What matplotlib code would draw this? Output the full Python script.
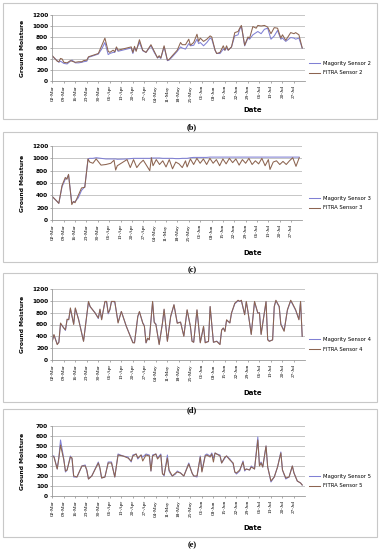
import matplotlib
matplotlib.use("Agg")
import matplotlib.pyplot as plt
from matplotlib.patches import Rectangle

# -----------------------------
# data (day 0 = 02-Mar)
# -----------------------------
tick_labels = ["02-Mar", "09-Mar", "16-Mar", "23-Mar", "30-Mar", "06-Apr", "13-Apr",
               "20-Apr", "27-Apr", "04-May", "11-May", "18-May", "25-May", "01-Jun",
               "08-Jun", "15-Jun", "22-Jun", "29-Jun", "06-Jul", "13-Jul", "20-Jul", "27-Jul"]
tick_days = list(range(0, 148, 7))

# sensor 2
days2 = [0, 3, 4, 5, 6, 7, 9, 11, 12, 14,
         16, 18, 19, 21, 22, 28, 30, 32, 34, 35,
         37, 38, 39, 40, 48, 49, 50, 51, 53, 55,
         57, 60, 62, 64, 65, 66, 68, 70, 71, 73,
         76, 78, 79, 81, 83, 84, 86, 88, 89, 90,
         92, 94, 96, 97, 99, 100, 102, 104, 105, 106,
         107, 109, 111, 113, 114, 115, 117, 119, 120, 122,
         124, 125, 127, 129, 131, 133, 135, 137, 139, 140,
         142, 145, 147, 148, 150, 152]
fitra2 = [460, 360, 350, 410, 400, 340, 330, 370, 360, 340,
          350, 350, 370, 380, 440, 500, 640, 780, 540, 520,
          560, 530, 620, 560, 620, 520, 630, 540, 750, 560,
          520, 660, 540, 420, 460, 420, 640, 380, 390, 460,
          560, 700, 660, 660, 760, 650, 700, 850, 720, 780,
          720, 760, 820, 800, 560, 500, 520, 640, 560, 640,
          560, 620, 880, 900, 960, 1010, 650, 800, 780, 990,
          960, 1010, 1000, 1010, 980, 860, 970, 960, 780, 840,
          740, 880, 860, 880, 840, 600]
major2 = [450, 370, 340, 360, 340, 320, 310, 360, 380, 330,
          330, 340, 350, 360, 430, 490, 580, 700, 480, 500,
          520, 520, 600, 540, 600, 500, 600, 560, 700, 550,
          520, 640, 520, 420, 440, 410, 620, 370, 380, 440,
          540, 620, 600, 580, 680, 640, 650, 760, 680, 700,
          640, 700, 780, 760, 560, 500, 500, 580, 560, 600,
          560, 620, 820, 840, 940, 1000, 640, 780, 760, 840,
          880, 900, 860, 940, 960, 760, 820, 920, 760, 780,
          720, 790, 780, 760, 780, 600]

# sensor 3
days3 = [0, 3, 4, 6, 8, 9, 10, 12, 13, 14,
         16, 18, 20, 22, 23, 25, 27, 30, 33, 36,
         38, 39, 40, 46, 48, 50, 52, 54, 56, 60,
         61, 62, 64, 66, 68, 70, 72, 74, 76, 78,
         80, 82, 83, 85, 87, 89, 91, 93, 95, 97,
         99, 101, 103, 105, 107, 109, 111, 113, 115, 117,
         119, 121, 123, 125, 127, 129, 131, 133, 134, 136,
         138, 140, 142, 144, 146, 148, 150, 152]
fitra3 = [380, 300, 270, 560, 690, 660, 740, 250, 300, 280,
          400, 520, 530, 990, 940, 920, 990, 890, 900, 920,
          970, 810, 880, 980, 850, 980, 850, 920, 970, 800,
          1010, 880, 980, 900, 960, 860, 980, 830, 940, 910,
          850, 960, 860, 990, 900, 1000, 920, 990, 900, 1000,
          920, 980, 880, 990, 910, 1000, 930, 990, 890, 980,
          920, 1000, 900, 960, 910, 1000, 880, 980, 820, 940,
          960, 900, 950, 900, 960, 1010, 870, 1010]
major3 = [380, 300, 270, 540, 660, 680, 730, 280, 290, 300,
          360, 480, 540, 990, 1000, 1000, 1010, 1000, 990, 990,
          990, 990, 985, 990, 995, 1000, 1000, 1000, 1000, 1000,
          1005, 1005, 1005, 1005, 1000, 1000, 1000, 1000, 995, 995,
          1000, 1000, 1000, 1010, 1015, 1015, 1015, 1015, 1015, 1020,
          1020, 1020, 1020, 1020, 1020, 1020, 1020, 1020, 1020, 1020,
          1020, 1020, 1020, 1020, 1020, 1020, 1020, 1020, 1020, 1020,
          1020, 1020, 1020, 1020, 1020, 1020, 1020, 1020]

# sensor 4
days4 = [0, 1, 3, 4, 5, 7, 8, 9, 10, 11,
         13, 14, 16, 19, 22, 23, 26, 28, 29, 30,
         32, 33, 34, 35, 36, 38, 40, 42, 45, 49,
         50, 52, 53, 55, 56, 57, 58, 59, 61, 62,
         63, 65, 67, 68, 70, 72, 74, 76, 78, 80,
         82, 84, 85, 86, 88, 90, 92, 93, 95, 96,
         98, 100, 102, 103, 104, 105, 106, 108, 109, 111,
         113, 114, 115, 117, 118, 119, 121, 123, 125, 126,
         127, 130, 131, 132, 134, 135, 136, 138, 139, 141,
         143, 145, 146, 148, 150, 151, 152]
fitra4 = [315, 430, 260, 300, 625, 540, 510, 690, 680, 880,
          600, 880, 680, 315, 990, 905, 795, 710, 860, 680,
          990, 990, 795, 850, 990, 990, 625, 820, 570, 290,
          290, 740, 820, 625, 570, 290, 370, 340, 990, 635,
          600, 260, 625, 860, 315, 740, 935, 620, 640, 400,
          850, 570, 315, 300, 850, 290, 570, 290, 315, 905,
          300, 315, 260, 510, 540, 480, 680, 625, 795, 960,
          1010, 990, 1010, 765, 990, 820, 430, 990, 795, 795,
          430, 990, 340, 315, 340, 905, 1010, 905, 600, 485,
          850, 1010, 960, 850, 680, 990, 400]
major4 = [330, 420, 270, 300, 610, 540, 500, 680, 690, 860,
          610, 870, 690, 320, 980, 900, 800, 700, 850, 690,
          980, 990, 780, 850, 990, 980, 640, 820, 570, 300,
          290, 730, 810, 630, 580, 290, 360, 350, 980, 640,
          610, 270, 620, 850, 320, 730, 930, 630, 640, 410,
          840, 560, 320, 300, 840, 300, 560, 300, 310, 900,
          300, 320, 270, 500, 540, 490, 670, 630, 790, 950,
          1000, 990, 1000, 770, 980, 820, 440, 980, 790, 800,
          440, 980, 350, 320, 340, 900, 1000, 900, 610, 500,
          840, 1000, 950, 840, 690, 980, 400]

# sensor 5
days5 = [0, 1, 3, 4, 5, 7, 8, 9, 11, 12,
         13, 15, 18, 20, 21, 22, 24, 28, 29, 30,
         32, 34, 36, 38, 40, 43, 46, 48, 49, 51,
         52, 54, 55, 57, 59, 60, 61, 63, 64, 66,
         67, 68, 70, 71, 72, 73, 75, 76, 78, 80,
         83, 85, 86, 88, 90, 91, 93, 94, 96, 97,
         98, 99, 100, 102, 103, 105, 106, 108, 110, 111,
         112, 114, 116, 117, 118, 120, 121, 123, 125, 126,
         127, 128, 130, 131, 133, 135, 137, 139, 140, 142,
         144, 146, 147, 149, 151, 152]
fitra5 = [400, 390, 270, 380, 510, 360, 250, 260, 390, 380,
          200, 190, 300, 300, 260, 170, 200, 330, 280, 180,
          190, 330, 330, 190, 410, 400, 380, 350, 400, 420,
          380, 410, 350, 410, 400, 250, 400, 420, 370, 410,
          220, 210, 380, 260, 230, 200, 230, 240, 230, 200,
          320, 230, 200, 200, 390, 240, 400, 410, 390, 420,
          340, 430, 420, 400, 330, 390, 400, 360, 330, 240,
          230, 260, 340, 260, 270, 260, 290, 270, 560, 300,
          330, 290, 500, 290, 150, 190, 290, 430, 260, 180,
          190, 300, 230, 150, 130, 110]
major5 = [400, 400, 270, 390, 560, 370, 240, 260, 400, 370,
          190, 190, 300, 310, 250, 170, 200, 340, 270, 180,
          190, 340, 340, 190, 420, 400, 390, 340, 410, 420,
          370, 410, 390, 420, 410, 250, 410, 420, 380, 420,
          230, 200, 410, 250, 220, 200, 220, 250, 230, 200,
          330, 230, 200, 190, 400, 250, 410, 420, 400, 430,
          380, 430, 420, 410, 330, 380, 400, 370, 320, 240,
          220, 250, 350, 250, 270, 260, 300, 270, 590, 310,
          340, 290, 500, 290, 140, 190, 290, 440, 260, 170,
          190, 300, 230, 150, 130, 110]

panels = [
    ("b", "2", days2, major2, fitra2, 1200, 200),
    ("c", "3", days3, major3, fitra3, 1200, 200),
    ("d", "4", days4, major4, fitra4, 1200, 200),
    ("e", "5", days5, major5, fitra5, 700, 100),
]

# pixel layout of each panel: frame top/bottom, plot top/bottom, plot right
layout = [
    (3, 119, 15, 81, 305),
    (132, 262, 146, 220, 302),
    (273, 402, 289, 360, 305),
    (409, 537, 426, 496, 305),
]

W, H = 384, 550
fig = plt.figure(figsize=(W / 100, H / 100), dpi=100)
fig.patch.set_facecolor("white")

c_major = "#8080d4"
c_fitra = "#8c6450"
grid_c = "#bdbdbd"
x_left = 52.3

for (tag, num, days, major, fitra, ymax, ystep), (ft, fb, pt, pb, pr) in zip(panels, layout):
    fig.add_artist(Rectangle((3 / W, 1 - fb / H), 374 / W, (fb - ft) / H,
                             transform=fig.transFigure, fill=False,
                             edgecolor="#c8c8c8", linewidth=0.8))
    ax = fig.add_axes([x_left / W, 1 - pb / H, (pr - x_left) / W, (pb - pt) / H])
    ax.plot(days, major, color=c_major, lw=0.75, label=f"Magority Sensor {num}")
    ax.plot(days, fitra, color=c_fitra, lw=0.75, label=f"FITRA Sensor {num}")
    ax.set_xlim(0, 153.7)
    ax.set_ylim(0, ymax)
    ax.set_yticks(range(0, ymax + 1, ystep))
    ax.yaxis.grid(True, color=grid_c, lw=0.6)
    ax.set_axisbelow(True)
    ax.set_xticks(tick_days)
    ax.set_xticklabels(tick_labels, rotation=90, fontsize=3.8,
                       family=["Liberation Serif", "DejaVu Serif"])
    for lab in ax.get_yticklabels():
        lab.set_fontsize(4.2)
        lab.set_fontweight("bold")
    ax.tick_params(axis="both", length=1.5, width=0.5, color="#888888", pad=1.5)
    for s in ["top", "right"]:
        ax.spines[s].set_visible(False)
    for s in ["left", "bottom"]:
        ax.spines[s].set_color("#999999")
        ax.spines[s].set_linewidth(0.6)

    ax.legend(loc="center left", bbox_to_anchor=(307 / W, 1 - ((pt + pb) / 2 + 20) / H),
              bbox_transform=fig.transFigure, frameon=False, fontsize=3.8,
              handlelength=2.0, labelspacing=0.9, handletextpad=0.6, borderaxespad=0)

    fig.text(23 / W, 1 - ((pt + pb) / 2) / H, "Ground Moisture", rotation=90,
             ha="center", va="center", fontsize=4.3, fontweight="bold")
    fig.text(253 / W, 1 - (fb - 9) / H, "Date", ha="center", va="center",
             fontsize=5, fontweight="bold")
    fig.text(192 / W, 1 - (fb + 8) / H, f"({tag})", ha="center", va="center",
             fontsize=6, fontweight="bold", family=["Liberation Serif", "DejaVu Serif"])

fig.savefig("out.png", dpi=100)
